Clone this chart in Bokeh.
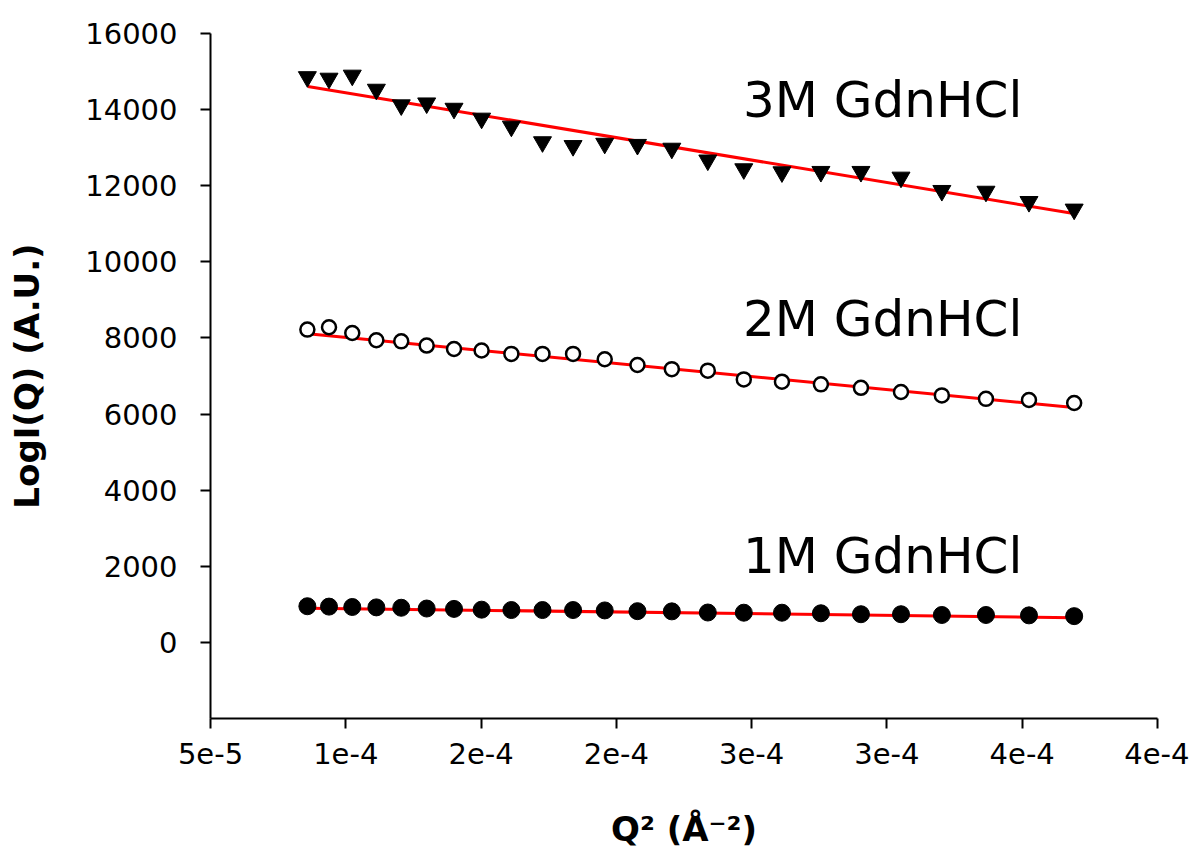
from bokeh.plotting import figure
from bokeh.models import Range1d, FixedTicker, Label, CustomJSTickFormatter
from bokeh.embed import file_html
from bokeh.resources import INLINE

# ---- data ----
q2 = [8.58e-5, 9.38e-5, 1.024e-4, 1.113e-4, 1.205e-4, 1.299e-4, 1.400e-4, 1.502e-4,
      1.612e-4, 1.727e-4, 1.840e-4, 1.957e-4, 2.078e-4, 2.205e-4, 2.338e-4, 2.471e-4,
      2.612e-4, 2.756e-4, 2.904e-4, 3.052e-4, 3.203e-4, 3.366e-4, 3.525e-4, 3.692e-4]

gdn3 = [14860, 14820, 14900, 14530, 14120, 14170, 14030, 13770, 13560, 13150, 13050, 13110,
        13080, 12980, 12670, 12440, 12360, 12370, 12370, 12220, 11870, 11850, 11580, 11380]

gdn2 = [8220, 8280, 8130, 7940, 7910, 7800, 7710, 7670, 7580, 7580, 7580, 7440,
        7290, 7180, 7140, 6910, 6850, 6780, 6690, 6580, 6490, 6400, 6370, 6290]

gdn1 = [950, 940, 930, 920, 910, 890, 880, 860, 850, 850, 850, 840,
        820, 815, 785, 780, 780, 765, 740, 740, 720, 720, 710, 690]

fit_q2 = [8.6e-5, 3.69e-4]
fit3 = [14610, 11270]
fit2 = [8110, 6170]
fit1 = [900, 650]

series_labels = ["3M GdnHCl", "2M GdnHCl", "1M GdnHCl"]

x_ticks = [5e-5, 1.0e-4, 1.5e-4, 2.0e-4, 2.5e-4, 3.0e-4, 3.5e-4, 4.0e-4]
x_tick_labels = ["5e-5", "1e-4", "2e-4", "2e-4", "3e-4", "3e-4", "4e-4", "4e-4"]
y_ticks = [0, 2000, 4000, 6000, 8000, 10000, 12000, 14000, 16000]

# ---- figure ----
p = figure(width=1189, height=851, output_backend="svg", toolbar_location=None,
           x_range=Range1d(5e-5, 4e-4), y_range=Range1d(-2000, 16000),
           min_border_left=210, min_border_right=32, min_border_top=33,
           min_border_bottom=133)
p.grid.visible = False
p.outline_line_color = None
p.background_fill_color = "white"
p.border_fill_color = "white"

# fit lines (under markers)
for fy in (fit3, fit2, fit1):
    p.line(fit_q2, fy, line_color="#FF0000", line_width=3)

p.scatter(q2, gdn3, marker="inverted_triangle", size=18,
          fill_color="black", line_color="black", line_width=1)
p.scatter(q2, gdn2, marker="circle", size=14,
          fill_color="white", line_color="black", line_width=2.5)
p.scatter(q2, gdn1, marker="circle", size=17,
          fill_color="black", line_color="black", line_width=1)

label_pos = [(2.468e-4, 14250), (2.468e-4, 8510), (2.468e-4, 2280)]
for txt, (lx, ly) in zip(series_labels, label_pos):
    p.add_layout(Label(x=lx, y=ly, text=txt, text_font="DejaVu Sans",
                       text_font_size="50px", text_color="black",
                       text_align="left", text_baseline="alphabetic"))

# ---- axes ----
p.xaxis.ticker = FixedTicker(ticks=x_ticks)
p.xaxis.formatter = CustomJSTickFormatter(args=dict(tv=x_ticks, tl=x_tick_labels), code="""
let b = 0;
for (let k = 0; k < tv.length; k++) {
  if (Math.abs(tv[k] - tick) < Math.abs(tv[b] - tick)) b = k;
}
return tl[b];
""")
p.yaxis.ticker = FixedTicker(ticks=y_ticks)

p.xaxis.axis_label = "Q\u00b2 (\u00c5\u207b\u00b2)"
p.yaxis.axis_label = "LogI(Q) (A.U.)"

for ax in (p.xaxis[0], p.yaxis[0]):
    ax.axis_line_width = 2
    ax.axis_line_color = "black"
    ax.major_tick_line_width = 2
    ax.major_tick_line_color = "black"
    ax.major_tick_out = 10
    ax.major_tick_in = 0
    ax.minor_tick_out = 0
    ax.minor_tick_in = 0
    ax.major_label_text_font = "DejaVu Sans"
    ax.major_label_text_font_size = "29px"
    ax.major_label_text_color = "black"
    ax.axis_label_text_font = "DejaVu Sans"
    ax.axis_label_text_font_style = "bold"
    ax.axis_label_text_font_size = "34px"
    ax.axis_label_text_color = "black"

p.xaxis.major_label_standoff = 14
p.yaxis.major_label_standoff = 23
p.xaxis.axis_label_standoff = 42
p.yaxis.axis_label_standoff = 35

open("out.html", "w").write(file_html(p, INLINE))
